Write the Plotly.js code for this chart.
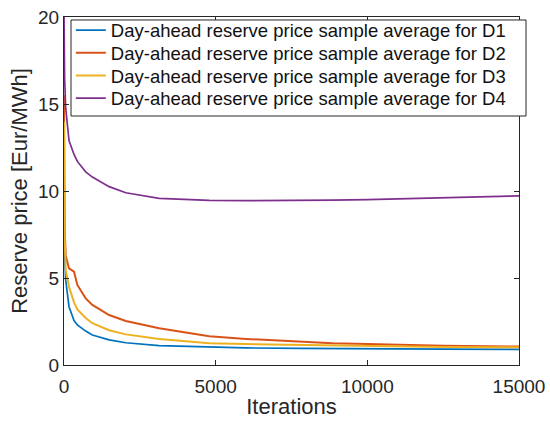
<!DOCTYPE html>
<html><head><meta charset="utf-8">
<script src="https://cdn.plot.ly/plotly-3.0.1.min.js"></script>
<style>html,body{margin:0;padding:0;background:#fff}</style>
</head><body><div id="chart" style="width:550px;height:421px"></div>
<script>
var iterations = [1, 20, 55, 165, 330, 440, 715, 935, 1487, 2037, 3138, 4460, 4790, 6000, 7760, 8850, 10000, 11070, 12500, 15000];
var d1 = [12, 6.5, 4.9, 3.35, 2.55, 2.3, 1.95, 1.72, 1.44, 1.28, 1.11, 1.05, 1.02, 0.98, 0.96, 0.94, 0.93, 0.92, 0.91, 0.9];
var d2 = [15.5, 8, 6.3, 5.55, 5.36, 4.6, 3.83, 3.45, 2.87, 2.53, 2.11, 1.72, 1.65, 1.5, 1.34, 1.25, 1.2, 1.15, 1.1, 1.06];
var d3 = [14, 7.5, 5.46, 4.5, 3.6, 3.2, 2.7, 2.4, 2.0, 1.76, 1.49, 1.28, 1.25, 1.2, 1.15, 1.12, 1.1, 1.07, 1.04, 1.02];
var d4 = [20, 16.5, 14.8, 12.9, 12.1, 11.7, 11.1, 10.8, 10.25, 9.9, 9.58, 9.48, 9.46, 9.45, 9.45, 9.47, 9.5, 9.54, 9.6, 9.72];
var names = ["Day-ahead reserve price sample average for D1","Day-ahead reserve price sample average for D2","Day-ahead reserve price sample average for D3","Day-ahead reserve price sample average for D4"];
var xTicks = [0, 5000, 10000, 15000];
var yTicks = [0, 5, 10, 15, 20];
var colors = ["#0072BD","#D95319","#EDB120","#7E2F8E"];
var widths = [1.7, 2, 2, 1.7];
var series = [d1, d2, d3, d4];
var legendIds = ["legend", "legend2", "legend3", "legend4"];
var legendTops = [1.0158, 0.9505, 0.8852, 0.8199];
var traces = series.map(function(s, i){
  return {x: iterations, y: s, type: "scatter", mode: "lines", name: names[i], legend: legendIds[i],
          line: {color: colors[i], width: widths[i]}};
});
var axcol = "#262626";
var layout = {
  width: 550, height: 421,
  margin: {l: 64, r: 31, t: 17, b: 56},
  paper_bgcolor: "#fff", plot_bgcolor: "#fff",
  font: {family: "Liberation Sans, Arial, sans-serif", color: axcol},
  showlegend: true,
  shapes: [{type: "rect", xref: "paper", yref: "paper", x0: 0.0154, x1: 1.0154, y0: 0.7155, y1: 0.9914,
            line: {color: axcol, width: 1}, fillcolor: "#fff", layer: "above"}],
  xaxis: {range: [0, 15000], tickvals: xTicks, ticktext: xTicks.map(String),
          showgrid: false, zeroline: false, showline: true, linecolor: axcol, linewidth: 1, mirror: "ticks",
          ticks: "inside", ticklen: 5, tickcolor: axcol, tickfont: {size: 19, color: axcol},
          ticklabelstandoff: 4,
          title: {text: "Iterations", font: {size: 22, color: axcol}, standoff: 2}},
  yaxis: {range: [0, 20], tickvals: yTicks,
          showgrid: false, zeroline: false, showline: true, linecolor: axcol, linewidth: 1, mirror: "ticks",
          ticks: "inside", ticklen: 5, tickcolor: axcol, tickfont: {size: 19, color: axcol},
          title: {text: "Reserve price [Eur/MWh]", font: {size: 22, color: axcol}, standoff: 4}}
};
legendIds.forEach(function(id, i){
  layout[id] = {x: 0.015, y: legendTops[i], xanchor: "left", yanchor: "top", bgcolor: "rgba(0,0,0,0)",
                borderwidth: 0, font: {size: 18.5, color: "#111"}, itemwidth: 30};
});
Plotly.newPlot("chart", traces, layout, {displayModeBar: false, staticPlot: true});
</script></body></html>
